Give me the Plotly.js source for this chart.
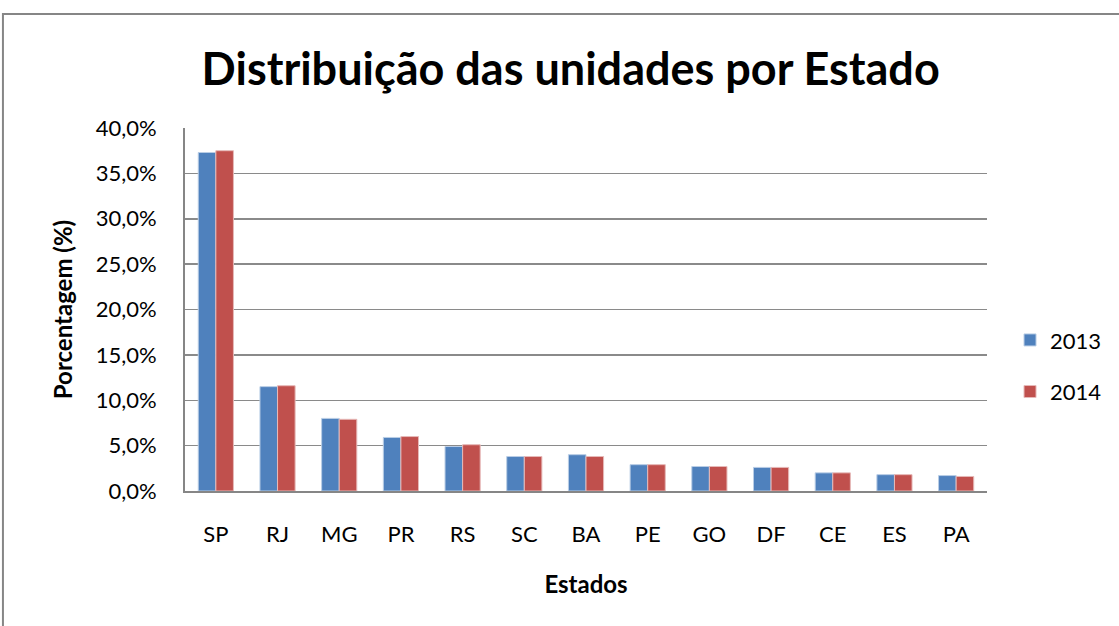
<!DOCTYPE html>
<html>
<head>
<meta charset="utf-8">
<script src="https://cdn.plot.ly/plotly-3.0.1.min.js"></script>
<style>
html,body{margin:0;padding:0;background:#fff;}
#chart{width:1119px;height:626px;}
</style>
</head>
<body>
<div id="chart"></div>
<script>
const categories = ["SP","RJ","MG","PR","RS","SC","BA","PE","GO","DF","CE","ES","PA"];
const values2013 = [37.3, 11.5, 8.0, 5.9, 4.9, 3.8, 4.0, 2.9, 2.7, 2.6, 2.0, 1.8, 1.7];
const values2014 = [37.5, 11.6, 7.9, 6.0, 5.1, 3.8, 3.8, 2.9, 2.7, 2.6, 2.0, 1.8, 1.6];
const seriesNames = ["2013", "2014"];
const yTickVals = [0,5,10,15,20,25,30,35,40];
const yTickText = ["0,0%","5,0%","10,0%","15,0%","20,0%","25,0%","30,0%","35,0%","40,0%"];

const font = "Lato, 'Open Sans', sans-serif";

const traces = [
  {type:"bar", name:seriesNames[0], x:categories, y:values2013, legendgroup:"a",
   marker:{color:"#4F81BD", line:{color:"#B9CDE5", width:1}}},
  {type:"bar", name:seriesNames[1], x:categories, y:values2014, legendgroup:"b",
   marker:{color:"#C0504D", line:{color:"#E6B9B8", width:1}}}
];

const layout = {
  width:1119, height:626,
  margin:{l:185, r:132, t:128, b:135, autoexpand:false},
  paper_bgcolor:"#fff", plot_bgcolor:"#fff",
  separators:",.",
  font:{family:font, color:"#000", size:22},
  title:{text:"<b>Distribuição das unidades por Estado</b>", font:{family:font, size:45, color:"#000"},
         x:0.51, xanchor:"center", y:0.89, yanchor:"middle"},
  barmode:"group", bargap:0.43, bargroupgap:0,
  xaxis:{type:"category", showgrid:false, showline:true, linecolor:"#868686", linewidth:2,
         ticks:"outside", ticklen:23, tickcolor:"rgba(0,0,0,0)", tickfont:{size:22, family:font}, zeroline:false,
         title:{text:"<b>Estados</b>", font:{size:24, family:font}, standoff:30}},
  yaxis:{range:[0,40], tickvals:yTickVals, ticktext:yTickText,
         showgrid:true, gridcolor:"#8a8a8a", gridwidth:1.5, showline:true, linecolor:"#868686", linewidth:2,
         ticks:"outside", ticklen:22, tickcolor:"rgba(0,0,0,0)", zeroline:false,
         tickfont:{size:22, family:font},
         title:{text:"<b>Porcentagem (%)</b>", font:{size:24, family:font}, standoff:16}},
  showlegend:true,
  legend:{x:1.0287, y:0.344, xanchor:"left", yanchor:"middle", font:{size:22, family:font},
          traceorder:"grouped", tracegroupgap:20, bgcolor:"rgba(0,0,0,0)"},
  shapes:[{type:"rect", xref:"paper", yref:"paper", x0:-0.227, x1:1.5, y0:-1, y1:1.314,
           line:{color:"#868686", width:2}, fillcolor:"rgba(0,0,0,0)", layer:"below"}]
};

Plotly.newPlot("chart", traces, layout, {displayModeBar:false, staticPlot:true});
</script>
</body>
</html>
